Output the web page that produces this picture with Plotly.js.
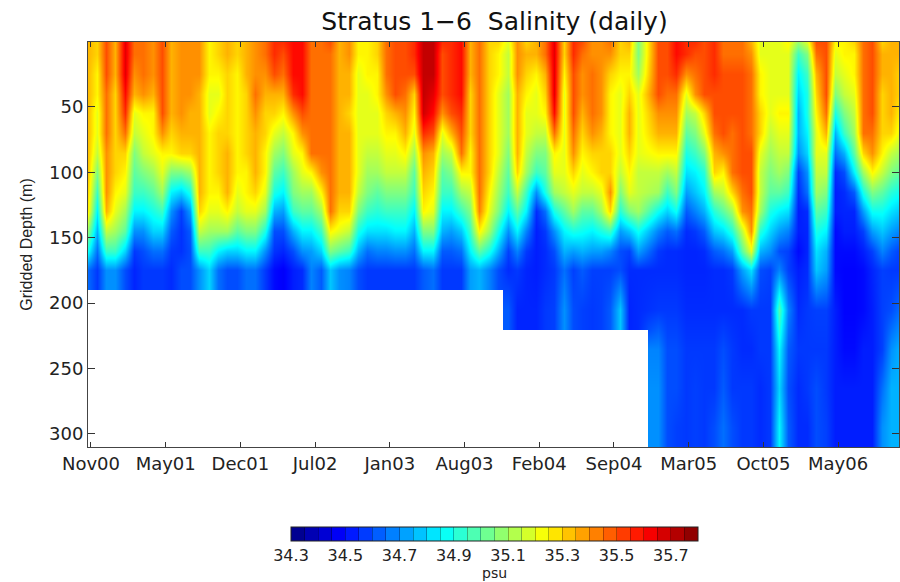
<!DOCTYPE html>
<html><head><meta charset="utf-8">
<script src="https://cdn.plot.ly/plotly-3.0.1.min.js"></script>
<style>html,body{margin:0;padding:0;background:#fff}</style>
</head><body><div id="chart" style="width:900px;height:582px"></div>
<script>
const days=[-10,15,40,65,90,115,140,165,190,215,240,265,290,315,340,365,390,415,440,465,490,515,540,565,590,615,640,665,690,715,740,765,790,815,840,865,890,915,940,965,990,1015,1040,1065,1090,1115,1140,1165,1190,1215,1240,1265,1290,1315,1340,1365,1390,1415,1440,1465,1517,1542,1567,1592,1617,1642,1667,1692,1717,1742,1767,1792,1817,1842,1867,1892,1917,1942,1967,1992,2017,2042,2067,2092,2117,2142,2167];
const depths=[0,10,25,40,55,70,85,100,115,130,145,160,175,205,235,265,295];
const tickDays=[0,200,400,600,800,1000,1200,1400,1600,1800,2000];
const tickLabels=["Nov00","May01","Dec01","Jul02","Jan03","Aug03","Feb04","Sep04","Mar05","Oct05","May06"];
const depthTicks=[50,100,150,200,250,300];
const barLabels=["34.3","34.5","34.7","34.9","35.1","35.3","35.5","35.7"];
const barEdges=[34.3,34.35,34.4,34.45,34.5,34.55,34.6,34.65,34.7,34.75,34.8,34.85,34.9,34.95,35.0,35.05,35.1,35.15,35.2,35.25,35.3,35.35,35.4,35.45,35.5,35.55,35.6,35.65,35.7,35.75,35.8];
// salinity profiles, one list per time step, top to bottom
const profiles=[
[35.35,35.35,35.35,35.35,35.35,35.35,35.35,35.35,35.33,35.3,35.1,34.9,34.65],
[35.3,35.3,35.25,35.25,35.2,35.2,35.15,35.05,34.95,34.85,34.75,34.65,34.57],
[35.5,35.5,35.5,35.45,35.45,35.45,35.4,35.4,35.4,35.35,35.15,34.95,34.7],
[35.35,35.35,35.35,35.3,35.3,35.3,35.3,35.3,35.25,35.2,35.1,34.95,34.7],
[35.65,35.65,35.65,35.6,35.55,35.45,35.3,35.25,35.2,35.1,35.0,34.8,34.6],
[35.45,35.45,35.4,35.35,35.2,35.15,35.05,35.0,34.95,34.85,34.7,34.57,34.54],
[35.45,35.45,35.45,35.4,35.25,35.2,35.15,35.05,34.95,34.85,34.7,34.6,34.57],
[35.4,35.4,35.4,35.35,35.25,35.25,35.2,35.1,35.0,34.9,34.8,34.65,34.57],
[35.5,35.5,35.5,35.5,35.5,35.4,35.25,35.2,35.1,34.95,34.8,34.65,34.57],
[35.35,35.35,35.35,35.35,35.35,35.3,35.25,35.05,34.85,34.7,34.62,34.57,34.55],
[35.4,35.4,35.4,35.4,35.4,35.35,35.3,35.05,34.8,34.58,34.56,34.56,34.6],
[35.4,35.4,35.4,35.4,35.35,35.35,35.3,35.1,34.9,34.72,34.62,34.6,34.6],
[35.4,35.4,35.4,35.35,35.35,35.35,35.35,35.35,35.35,35.3,35.15,34.95,34.7],
[35.25,35.25,35.25,35.2,35.2,35.25,35.25,35.25,35.25,35.2,35.1,34.95,34.8],
[35.3,35.3,35.25,35.2,35.25,35.3,35.3,35.3,35.25,35.2,35.1,34.85,34.65],
[35.35,35.35,35.3,35.3,35.3,35.3,35.35,35.35,35.35,35.25,35.1,34.8,34.6],
[35.3,35.3,35.25,35.25,35.25,35.25,35.25,35.25,35.2,35.15,35.0,34.8,34.6],
[35.35,35.35,35.35,35.3,35.3,35.3,35.3,35.25,35.25,35.2,35.05,34.85,34.65],
[35.4,35.4,35.4,35.45,35.4,35.35,35.35,35.35,35.3,35.2,35.05,34.85,34.65],
[35.45,35.45,35.4,35.35,35.3,35.3,35.25,35.25,35.2,35.1,34.9,34.7,34.57],
[35.55,35.55,35.5,35.35,35.3,35.2,35.1,35.0,34.9,34.75,34.6,34.56,34.5],
[35.55,35.5,35.45,35.35,35.25,35.15,35.05,34.95,34.85,34.72,34.6,34.54,34.48],
[35.6,35.6,35.6,35.55,35.4,35.25,35.2,35.1,35.05,34.95,34.75,34.6,34.53],
[35.6,35.6,35.6,35.6,35.5,35.4,35.25,35.2,35.1,35.0,34.85,34.7,34.55],
[35.45,35.45,35.45,35.45,35.45,35.45,35.45,35.25,35.1,35.0,34.85,34.72,34.68],
[35.45,35.45,35.45,35.45,35.45,35.45,35.45,35.4,35.25,35.1,34.95,34.8,34.62],
[35.5,35.45,35.45,35.45,35.45,35.45,35.45,35.45,35.45,35.45,35.25,35.05,34.78],
[35.35,35.35,35.35,35.35,35.35,35.35,35.35,35.35,35.35,35.3,35.2,35.0,34.7],
[35.4,35.4,35.35,35.35,35.3,35.35,35.35,35.35,35.35,35.3,35.15,34.95,34.68],
[35.25,35.25,35.2,35.2,35.2,35.2,35.2,35.2,35.15,35.05,34.9,34.75,34.6],
[35.25,35.25,35.25,35.2,35.2,35.2,35.15,35.1,35.05,34.95,34.82,34.65,34.57],
[35.3,35.3,35.25,35.25,35.2,35.2,35.15,35.1,35.0,34.92,34.82,34.68,34.57],
[35.45,35.45,35.45,35.4,35.3,35.25,35.2,35.15,35.05,34.95,34.82,34.68,34.57],
[35.5,35.5,35.5,35.5,35.35,35.25,35.2,35.15,35.05,34.95,34.85,34.7,34.57],
[35.5,35.5,35.5,35.45,35.4,35.35,35.25,35.15,35.05,34.95,34.85,34.7,34.57],
[35.55,35.55,35.5,35.3,35.25,35.2,35.1,35.0,34.95,34.85,34.75,34.65,34.57],
[35.7,35.7,35.7,35.7,35.68,35.55,35.4,35.35,35.3,35.25,35.05,34.85,34.62],
[35.7,35.7,35.7,35.65,35.6,35.5,35.35,35.3,35.25,35.2,35.05,34.85,34.65],
[35.55,35.5,35.5,35.5,35.4,35.2,35.1,35.0,34.95,34.85,34.75,34.62,34.57],
[35.55,35.55,35.55,35.55,35.5,35.35,35.15,35.05,34.95,34.85,34.72,34.62,34.57],
[35.6,35.6,35.6,35.6,35.55,35.5,35.45,35.25,35.1,34.95,34.78,34.65,34.57],
[35.35,35.35,35.35,35.3,35.3,35.3,35.25,35.25,35.15,35.05,34.95,34.85,34.72],
[35.45,35.45,35.45,35.45,35.45,35.45,35.45,35.45,35.45,35.42,35.25,35.0,34.75],
[35.3,35.3,35.3,35.3,35.3,35.3,35.3,35.3,35.25,35.2,35.1,34.9,34.68],
[35.3,35.25,35.25,35.2,35.2,35.2,35.2,35.15,35.1,35.05,34.9,34.75,34.6],
[35.2,35.15,35.15,35.1,35.1,35.1,35.05,35.0,34.95,34.85,34.7,34.58,34.55,34.62],
[35.4,35.4,35.4,35.35,35.35,35.35,35.35,35.3,35.15,35.0,34.85,34.68,34.57,34.54],
[35.3,35.35,35.3,35.25,35.2,35.2,35.15,35.1,34.95,34.85,34.68,34.57,34.54,34.54],
[35.35,35.35,35.25,35.2,35.2,35.15,35.05,34.95,34.7,34.55,34.53,34.53,34.53,34.54],
[35.45,35.45,35.35,35.3,35.25,35.15,35.05,35.0,34.9,34.65,34.57,34.55,34.55,34.57],
[35.65,35.65,35.65,35.65,35.6,35.45,35.25,35.2,35.1,34.9,34.7,34.6,34.57,34.58],
[35.3,35.3,35.25,35.2,35.2,35.2,35.2,35.2,35.15,35.0,34.85,34.75,34.65,34.7],
[35.55,35.55,35.5,35.5,35.5,35.45,35.4,35.3,35.2,35.1,34.9,34.72,34.58,34.6],
[35.5,35.45,35.4,35.4,35.35,35.3,35.25,35.2,35.15,35.0,34.88,34.75,34.62,34.58],
[35.4,35.4,35.45,35.45,35.45,35.4,35.3,35.25,35.15,35.0,34.85,34.72,34.58,34.57],
[35.4,35.4,35.4,35.4,35.4,35.35,35.3,35.3,35.2,35.1,34.9,34.72,34.58,34.58],
[35.45,35.4,35.3,35.25,35.25,35.25,35.3,35.3,35.4,35.3,34.95,34.68,34.58,34.62],
[35.3,35.3,35.25,35.2,35.2,35.2,35.2,35.15,35.05,34.92,34.72,34.6,34.6,34.78],
[35.35,35.3,35.25,35.3,35.35,35.35,35.3,35.25,35.2,35.05,34.78,34.58,34.55,34.54],
[35.05,35.05,35.1,35.2,35.2,35.2,35.2,35.15,35.15,35.1,34.88,34.72,34.55,34.55],
[35.5,35.5,35.5,35.5,35.4,35.35,35.25,35.15,35.1,34.88,34.68,34.57,34.55,34.57,34.68,34.7,34.7],
[35.5,35.5,35.5,35.45,35.4,35.35,35.25,35.1,34.95,34.8,34.62,34.55,34.55,34.57,34.6,34.6,34.6],
[35.6,35.6,35.55,35.45,35.4,35.35,35.25,35.15,35.05,34.88,34.65,34.55,34.55,34.57,34.6,34.6,34.58],
[35.55,35.55,35.4,35.2,35.1,35.0,34.9,34.82,34.72,34.62,34.55,34.54,34.54,34.55,34.57,34.57,34.57],
[35.55,35.5,35.45,35.4,35.15,35.05,34.95,34.85,34.78,34.68,34.57,34.54,34.54,34.55,34.57,34.58,34.58],
[35.5,35.5,35.5,35.5,35.3,35.2,35.05,34.92,34.85,34.75,34.62,34.55,34.54,34.55,34.57,34.57,34.57],
[35.55,35.55,35.55,35.5,35.5,35.45,35.35,35.3,35.1,34.92,34.78,34.62,34.55,34.55,34.57,34.57,34.6],
[35.45,35.45,35.5,35.5,35.5,35.5,35.4,35.25,35.15,35.0,34.82,34.65,34.55,34.55,34.6,34.62,34.65],
[35.45,35.45,35.5,35.5,35.5,35.45,35.45,35.45,35.3,35.1,34.92,34.72,34.57,34.55,34.57,34.57,34.6],
[35.45,35.45,35.5,35.5,35.5,35.5,35.5,35.5,35.45,35.4,35.15,35.0,34.72,34.55,34.55,34.57,34.57],
[35.35,35.4,35.45,35.45,35.45,35.45,35.5,35.5,35.5,35.45,35.4,35.2,34.82,34.57,34.55,34.57,34.57],
[35.2,35.2,35.25,35.25,35.3,35.3,35.2,35.15,35.15,35.1,34.92,34.75,34.6,34.57,34.57,34.55,34.55],
[35.2,35.2,35.2,35.2,35.2,35.15,35.1,35.05,35.0,34.9,34.8,34.7,34.58,34.57,34.57,34.57,34.57],
[35.2,35.2,35.2,35.2,35.25,35.2,35.15,35.1,35.0,34.85,34.72,34.6,34.68,34.98,34.85,34.8,34.85],
[35.25,35.2,35.2,35.2,35.25,35.2,35.15,35.05,34.95,34.82,34.68,34.58,34.58,34.68,34.62,34.6,34.62],
[35.1,34.95,34.85,34.8,34.75,34.75,34.7,34.58,34.55,34.53,34.53,34.5,34.53,34.55,34.57,34.55,34.55],
[35.2,35.05,34.95,34.9,34.9,34.85,34.8,34.7,34.65,34.55,34.54,34.54,34.55,34.57,34.57,34.57,34.55],
[35.5,35.45,35.35,35.3,35.25,35.2,35.2,35.15,35.1,35.0,34.9,34.82,34.78,34.58,34.57,34.6,34.6],
[35.5,35.5,35.5,35.5,35.45,35.35,35.2,35.15,35.05,34.95,34.85,34.75,34.72,34.58,34.57,34.57,34.58],
[35.25,35.2,35.15,35.05,34.9,34.75,34.65,34.55,34.53,34.53,34.5,34.5,34.5,34.53,34.53,34.53,34.53],
[35.25,35.25,35.2,35.15,35.05,34.95,34.75,34.6,34.55,34.54,34.53,34.5,34.49,34.49,34.5,34.53,34.53],
[35.3,35.25,35.25,35.2,35.15,35.1,35.0,34.85,34.62,34.54,34.53,34.5,34.49,34.49,34.5,34.53,34.53],
[35.45,35.45,35.45,35.45,35.45,35.45,35.3,35.1,34.9,34.72,34.58,34.53,34.5,34.5,34.53,34.53,34.53],
[35.5,35.5,35.5,35.5,35.5,35.45,35.4,35.25,35.05,34.88,34.72,34.58,34.54,34.53,34.53,34.53,34.53],
[35.3,35.35,35.35,35.3,35.3,35.3,35.25,35.15,35.0,34.88,34.78,34.68,34.58,34.58,34.58,34.65,34.7],
[35.35,35.35,35.35,35.35,35.35,35.3,35.15,35.05,34.92,34.82,34.72,34.62,34.57,34.6,34.7,34.75,34.75],
[35.35,35.35,35.3,35.3,35.25,35.2,35.1,35.0,34.88,34.78,34.68,34.58,34.57,34.65,34.75,34.75,34.75]
];
const z=depths.map((d,r)=>profiles.map(p=>r<p.length?p[r]:null));

// jet palette: 30 steps for the colour bar, continuous blend for the field
const clip=v=>Math.max(0,Math.min(1,v));
const stepped=[], smooth=[];
const jet=t=>{const c=[Math.min(4*t-1.5,-4*t+4.5),Math.min(4*t-0.5,-4*t+3.5),Math.min(4*t+0.5,-4*t+2.5)].map(v=>Math.round(clip(v)*255));return `rgb(${c[0]},${c[1]},${c[2]})`;};
for(let i=0;i<30;i++){
  const col=jet((i+0.5)/30);
  stepped.push([i/30,col],[(i+1)/30,col]);
}
for(let i=0;i<=64;i++) smooth.push([i/64,jet(i/64)]);
const FONT="DejaVu Sans", INK="#222";
const barText=barEdges.map((v,i)=>i%4===0&&barLabels[i/4]?barLabels[i/4]:"");
Plotly.newPlot("chart",[{
  type:"heatmap",x:days,y:depths,z:z,zsmooth:"best",zmin:34.3,zmax:35.8,colorscale:stepped,hoverinfo:"skip",
  colorbar:{orientation:"h",lenmode:"pixels",len:407,thicknessmode:"pixels",thickness:14,
    x:(494.5-88)/811,xanchor:"center",y:(447-527)/405,yanchor:"top",xpad:0,ypad:0,
    outlinecolor:"#222",outlinewidth:1,ticks:"inside",ticklen:14,tickwidth:1,tickcolor:"rgba(0,0,0,0.3)",
    tickmode:"array",tickvals:barEdges,ticktext:barText,
    tickfont:{family:FONT,size:16,color:INK}}
},{
  type:"heatmap",x:days,y:depths,z:z,zsmooth:"best",zmin:34.3,zmax:35.8,colorscale:smooth,showscale:false,hoverongaps:false
}],{
  width:900,height:582,margin:{l:88,r:1,t:42,b:135,pad:0,autoexpand:false},paper_bgcolor:"#fff",plot_bgcolor:"#fff",
  font:{family:FONT,color:INK},
  title:{text:"Stratus 1\u22126\u00a0 Salinity (daily)",font:{family:FONT,size:25,color:"#111"},x:494.5/900,xanchor:"center",y:1-21/582,yanchor:"middle"},
  annotations:[{text:"psu",xref:"paper",yref:"paper",x:(494.5-88)/811,y:(447-582)/405,xanchor:"center",yanchor:"bottom",borderpad:0,showarrow:false,font:{family:FONT,size:14,color:INK}}],
  xaxis:{range:[-8,2163],tickmode:"array",tickvals:tickDays,ticktext:tickLabels,ticks:"inside",ticklen:5,tickwidth:1,tickcolor:"#333",
    showgrid:false,zeroline:false,showline:true,linecolor:"#444",linewidth:1,mirror:"allticks",tickangle:0,tickfont:{family:FONT,size:18,color:INK}},
  yaxis:{range:[310,0.5],tickmode:"array",tickvals:depthTicks,ticks:"inside",ticklen:7,tickwidth:1,tickcolor:"#333",
    showgrid:false,zeroline:false,showline:true,linecolor:"#444",linewidth:1,mirror:"allticks",tickfont:{family:FONT,size:18,color:INK},
    title:{text:"Gridded Depth (m)",font:{family:"Liberation Sans",size:16,color:INK},standoff:12}}
},{displayModeBar:false,responsive:false});
</script></body></html>
